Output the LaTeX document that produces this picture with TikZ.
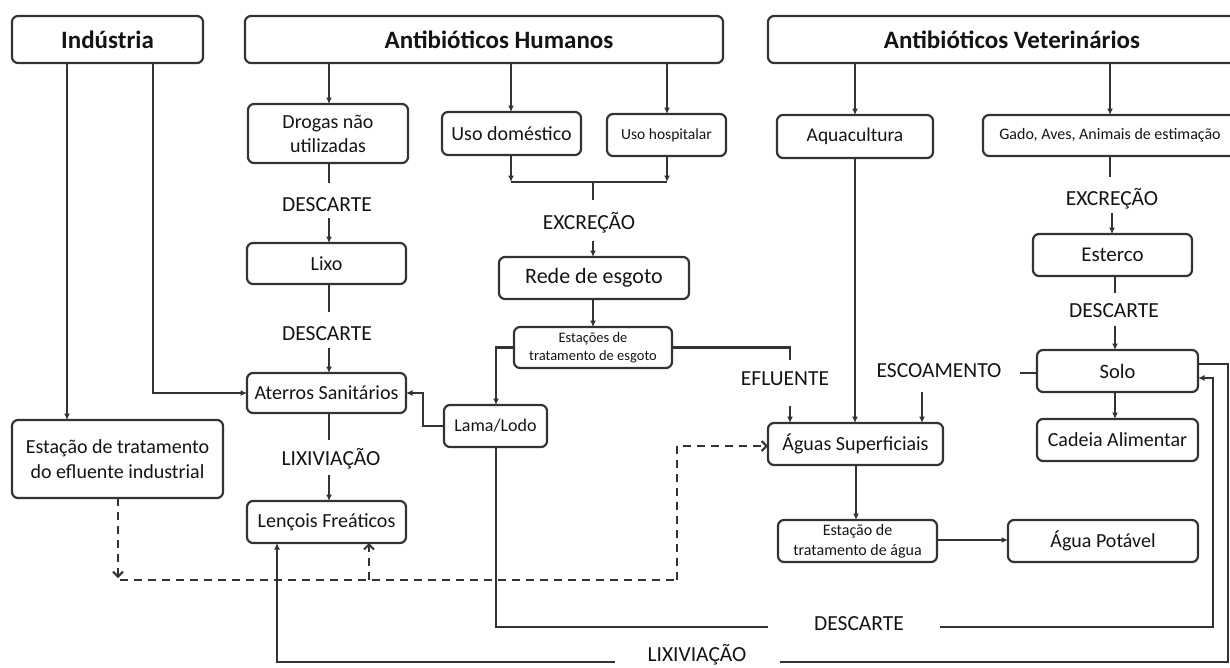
\documentclass[tikz,border=0pt]{standalone}
\usepackage{fontspec}
\setmainfont{Carlito}
\usetikzlibrary{arrows.meta}
\definecolor{ln}{HTML}{333333}
\definecolor{tx}{HTML}{141414}
\begin{document}
\begin{tikzpicture}[x=1pt,y=-1pt,
  box/.style={draw=ln, line width=2.2pt, rounded corners=6pt, inner sep=0pt, outer sep=0pt, align=center, text=tx, font=\fontsize{20}{24}\selectfont},
  hdr/.style={box, font=\bfseries\fontsize{25}{30}\selectfont},
  lbl/.style={inner sep=0pt, anchor=base, text=tx, font=\fontsize{21.5}{26}\selectfont},
  con/.style={draw=ln, line width=2.1pt},
  arr/.style={con, -{Latex[length=6.5pt,width=6pt]}},
  dsh/.style={con, dash pattern=on 8pt off 6pt},
  darr/.style={dsh, -{Straight Barb[length=5pt,width=10pt]}},
]
\useasboundingbox (0,0) rectangle (1230,667);

% headers
\node[hdr, minimum width=191pt, minimum height=47pt] (ind) at (107.5,39.5) {Indústria};
\node[hdr, minimum width=478pt, minimum height=47pt] (hum) at (484,39.5) {\hspace*{30pt}Antibióticos Humanos};
\node[hdr, minimum width=488pt, minimum height=47pt] (vet) at (1012,39.5) {Antibióticos Veterinários};

% boxes
\node[box, minimum width=160pt, minimum height=59pt] (drog) at (328,133.5) {Drogas não\\utilizadas};
\node[box, minimum width=139pt, minimum height=43pt] (dom) at (511.5,133.5) {Uso doméstico};
\node[box, minimum width=119pt, minimum height=42pt, font=\fontsize{15.5}{18}\selectfont] (hosp) at (666.5,135) {Uso hospitalar};
\node[box, minimum width=156pt, minimum height=43pt, font=\fontsize{19.5}{23}\selectfont] (aqua) at (855,136.5) {Aquacultura};
\node[box, minimum width=267pt, minimum height=41pt, font=\fontsize{16}{19}\selectfont] (gado) at (1116.5,135.5) {Gado, Aves, Animais de estimação\hspace*{13pt}};
\node[box, minimum width=159pt, minimum height=41pt] (lixo) at (326.5,263.5) {Lixo};
\node[box, minimum width=190pt, minimum height=42pt, font=\fontsize{22}{26}\selectfont] (rede) at (594,278) {Rede de esgoto};
\node[box, minimum width=158pt, minimum height=41pt, font=\fontsize{14.5}{18}\selectfont] (estg) at (593,347.5) {Estações de\\tratamento de esgoto};
\node[box, minimum width=159pt, minimum height=42pt, font=\fontsize{21}{25}\selectfont] (ester) at (1112.5,255) {Esterco};
\node[box, minimum width=161pt, minimum height=42pt, font=\fontsize{20.5}{25}\selectfont] (solo) at (1117.5,371) {Solo};
\node[box, minimum width=159pt, minimum height=40pt] (ater) at (326.5,393) {Aterros Sanitários};
\node[box, minimum width=103pt, minimum height=42pt, font=\fontsize{18}{22}\selectfont] (lama) at (495.5,426) {Lama/Lodo};
\node[box, minimum width=161pt, minimum height=42pt] (cade) at (1117.5,440) {Cadeia Alimentar};
\node[box, minimum width=175pt, minimum height=42pt] (aguas) at (855.5,444) {Águas Superficiais};
\node[box, minimum width=211pt, minimum height=78pt, font=\fontsize{20}{25}\selectfont] (eind) at (117.5,459) {Estação de tratamento\\do efluente industrial};
\node[box, minimum width=159pt, minimum height=42pt] (lenc) at (326.5,522) {Lençois Freáticos};
\node[box, minimum width=159pt, minimum height=42pt, font=\fontsize{16}{20}\selectfont] (eta) at (857.5,541) {Estação de\\tratamento de água};
\node[box, minimum width=190pt, minimum height=42pt] (pot) at (1103,541) {Água Potável};

% labels
\node[lbl] (d1) at (327,211) {DESCARTE};
\node[lbl] (d2) at (327,340) {DESCARTE};
\node[lbl] (lx1) at (331,465) {LIXIVIAÇÃO};
\node[lbl] (exc1) at (589,229) {EXCREÇÃO};
\node[lbl] (exc2) at (1112,205) {EXCREÇÃO};
\node[lbl] (d3) at (1114,317) {DESCARTE};
\node[lbl] (efl) at (785,385) {EFLUENTE};
\node[lbl] (esc) at (939,377) {ESCOAMENTO};
\node[lbl] (d4) at (859,630) {DESCARTE};
\node[lbl] (lx2) at (697,661.5) {LIXIVIAÇÃO};

% free-end coordinates
\coordinate (j1) at (511,182);
\coordinate (j2) at (667,182);
\coordinate (jm) at (593,182);
\coordinate (jx) at (593,200);

% Industria
\draw[arr] (67,0 |- ind.south) -- (67,0 |- eind.north);
\draw[arr] (153,0 |- ind.south) |- (ater.west);

% Humanos
\draw[arr] (329,0 |- hum.south) -- (329,0 |- drog.north);
\draw[arr] (511,0 |- hum.south) -- (511,0 |- dom.north);
\draw[arr] (667,0 |- hum.south) -- (667,0 |- hosp.north);
\draw[arr] (511,0 |- dom.south) -- (j1);
\draw[arr] (667,0 |- hosp.south) -- (j2);
\draw[con] (j1) -- (j2);
\draw[con] (jm) -- (jx);
\draw[arr] (593,241) -- (593,0 |- rede.north);
\draw[arr] (593,0 |- rede.south) -- (593,0 |- estg.north);

% drogas chain
\draw[con] (329,0 |- drog.south) -- (329,183);
\draw[arr] (329,218) -- (329,0 |- lixo.north);
\draw[con] (329,0 |- lixo.south) -- (329,312);
\draw[arr] (329,348) -- (329,0 |- ater.north);
\draw[con] (329,0 |- ater.south) -- (329,440);
\draw[arr] (329,475) -- (329,0 |- lenc.north);

% estacoes de esgoto
\draw[arr] (estg.west) -| (496,0 |- lama.north);
\draw[con] (estg.east) -| (790,360);
\draw[arr] (790,406) -- (790,0 |- aguas.north);
\draw[arr] (lama.west) -- (423,0 |- lama.west) |- (ater.east);

% lama -> solo (DESCARTE)
\draw[con] (496,0 |- lama.south) |- (768,627);
\draw[arr] (940,627) -- (1213,627) |- (solo.east |- 0,378);

% solo -> lencois (LIXIVIACAO)
\draw[con] (solo.east |- 0,364) -| (1228,662) -- (780,662);
\draw[arr] (615,662) -| (277,0 |- lenc.south);

% Veterinarios
\draw[arr] (855,0 |- vet.south) -- (855,0 |- aqua.north);
\draw[arr] (1110,0 |- vet.south) -- (1110,0 |- gado.north);
\draw[arr] (855,0 |- aqua.south) -- (855,0 |- aguas.north);
\draw[con] (1110,0 |- gado.south) -- (1110,177);
\draw[arr] (1112,213) -- (1112,0 |- ester.north);
\draw[con] (1115,0 |- ester.south) -- (1115,293);
\draw[arr] (1115,326) -- (1115,0 |- solo.north);
\draw[arr] (1115,0 |- solo.south) -- (1115,0 |- cade.north);
\draw[con] (solo.west |- 0,373) -- (1020,373);
\draw[arr] (922,392) -- (922,0 |- aguas.north);
\draw[arr] (856,0 |- aguas.south) -- (856,0 |- eta.north);
\draw[arr] (eta.east |- 0,540) -- (pot.west |- 0,540);

% dashed
\draw[darr] (118,0 |- eind.south) -- (118,578);
\draw[dsh] (120,580) -- (677,580);
\draw[darr] (677,580) |- (aguas.west |- 0,446);
\draw[darr] (369,580) -- (369,0 |- lenc.south);
\end{tikzpicture}
\end{document}
